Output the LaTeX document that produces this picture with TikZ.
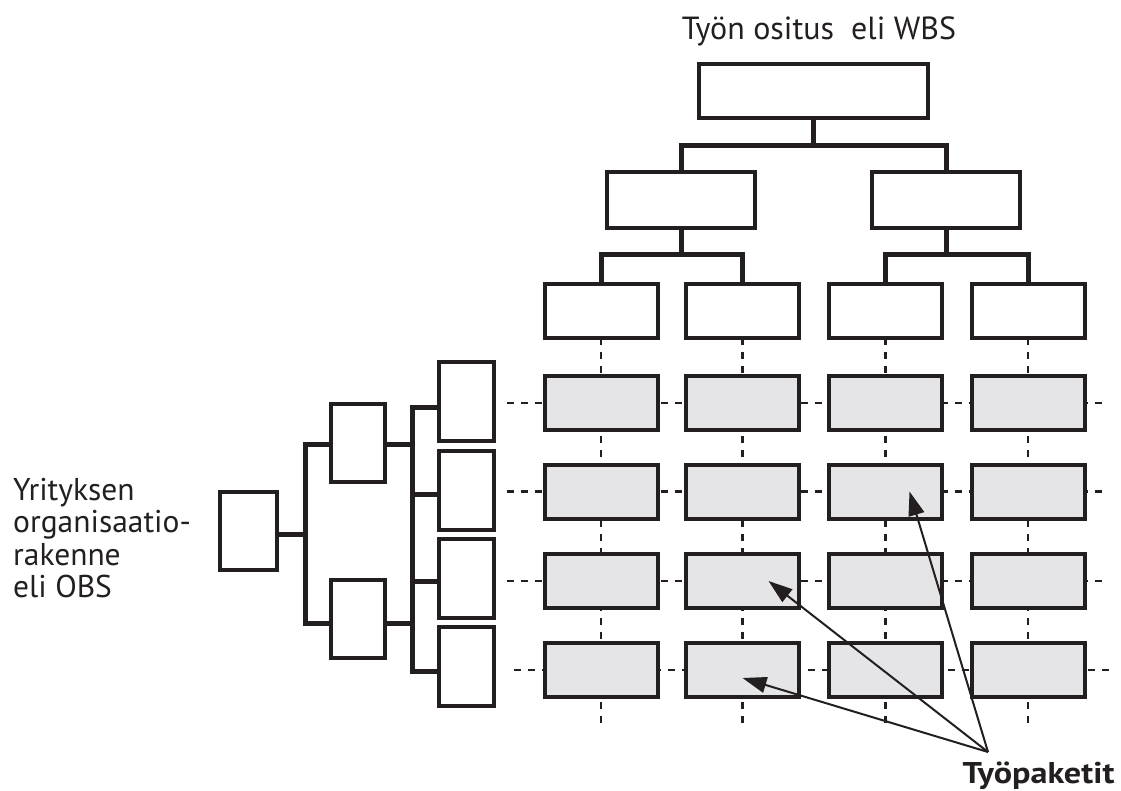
\documentclass[tikz,border=0pt]{standalone}
\usepackage{fontspec}
\setmainfont{PT Sans}
\usetikzlibrary{arrows.meta}
\definecolor{ink}{HTML}{231F20}
\definecolor{pkg}{HTML}{E5E5E7}
\pgfdeclarelayer{bg}
\pgfsetlayers{bg,main}
\begin{document}
\begin{tikzpicture}[x=1pt,y=-1pt,
  box/.style={draw=ink, line width=4pt, fill=white, inner sep=0pt, outer sep=0pt},
  pkgbox/.style={box, fill=pkg, minimum width=113pt, minimum height=54pt},
  wA/.style={minimum width=229pt, minimum height=54pt},
  wB/.style={minimum width=148pt, minimum height=56pt},
  wC/.style={minimum width=113pt, minimum height=54pt},
  oA/.style={minimum width=57pt, minimum height=78pt},
  oB/.style={minimum width=54pt, minimum height=78pt},
  oC/.style={minimum width=55pt, minimum height=79pt},
  conn/.style={draw=ink, line width=5pt, line join=miter},
  dashline/.style={draw=ink, line width=2.5pt, dash pattern=on 7pt off 7pt},
  arr/.style={draw=ink, line width=2pt, -{Triangle[length=24pt,width=16pt]}},
  lbl/.style={inner sep=0pt, text=ink, font=\fontsize{31.5}{32.3}\selectfont}
]
\useasboundingbox (0,0) rectangle (1121,791);

% WBS tree
\node[box, wA] (w0) at (813.5,91) {};
\node[box, wB] (w1) at (681,200) {};
\node[box, wB] (w2) at (946,200) {};
\node[box, wC] (c1) at (601,311) {};
\node[box, wC] (c2) at (742.5,311) {};
\node[box, wC] (c3) at (885.5,311) {};
\node[box, wC] (c4) at (1028,311) {};

\coordinate (wj) at (813.5,146);
\draw[conn] (w0.south) -- (wj);
\draw[conn] (w1.north) |- (wj);
\draw[conn] (w2.north) |- (wj);
\coordinate (aj) at (681,255);
\draw[conn] (w1.south) -- (aj);
\draw[conn] (c1.north) |- (aj);
\draw[conn] (c2.north) |- (aj);
\coordinate (bj) at (946,255);
\draw[conn] (w2.south) -- (bj);
\draw[conn] (c3.north) |- (bj);
\draw[conn] (c4.north) |- (bj);

% work packages grid
\foreach \r/\y in {1/403,2/491.5,3/581,4/670}{
  \foreach \c/\x in {1/601,2/742.5,3/885.5,4/1028}{
    \node[pkgbox] (g\r\c) at (\x,\y) {};
  }
}
\begin{pgfonlayer}{bg}
\foreach \c in {1,2,3,4}{
  \draw[dashline] (c\c.south) -- ([yshift=-27pt]g4\c.south);
}
\foreach \r in {1,2,3}{
  \draw[dashline] ([xshift=-38pt]g\r1.west) -- ([xshift=24pt]g\r4.east);
}
\draw[dashline] ([xshift=-31pt]g41.west) -- ([xshift=26pt]g44.east);
\end{pgfonlayer}

% OBS tree
\node[box, oA] (o0) at (248.5,531) {};
\node[box, oB] (o1) at (358,442.5) {};
\node[box, oB] (o2) at (358,619) {};
\node[box, oC] (o3) at (466.5,401.5) {};
\node[box, oC] (o4) at (466.5,490.5) {};
\node[box, oC] (o5) at (466.5,578) {};
\node[box, oC] (o6) at (466.5,666.5) {};

\coordinate (oj1) at (305,534);
\draw[conn] (o0.east |- oj1) -- (oj1);
\draw[conn] ([yshift=-2pt]o1.west) -| (oj1);
\draw[conn] ([yshift=-4pt]o2.west) -| (oj1);
\coordinate (oj2) at (412,0);
\draw[conn] ([yshift=-2pt]o1.east) -- ([yshift=-2pt]o1.east -| oj2);
\draw[conn] ([yshift=-4pt]o2.east) -- ([yshift=-4pt]o2.east -| oj2);
\draw[conn] ([yshift=-6pt]o3.west) -| ([yshift=-5pt]o6.west -| oj2) -- ([yshift=-5pt]o6.west);
\draw[conn] ([yshift=-4pt]o4.west) -- ([yshift=-4pt]o4.west -| oj2);
\draw[conn] ([yshift=-3pt]o5.west) -- ([yshift=-3pt]o5.west -| oj2);

% labels
\node[lbl, anchor=base, font=\fontsize{32}{34}\selectfont] (title) at (819,40) {Työn ositus\ \ eli WBS};
\node[lbl, anchor=north west, align=left] (obs) at (13,478) {Yrityksen\\organisaatio-\\rakenne\\eli OBS};
\node[lbl, anchor=base, font=\fontsize{30}{32}\selectfont\bfseries] (tp-label) at (1038.5,783) {\scalebox{1.14}[1]{Työpaketit}};

% arrows
\coordinate (tp) at (988,752);
\draw[arr] (tp) -- ([xshift=24pt]g23.center);
\draw[arr] (tp) -- ([xshift=26pt]g32.center);
\draw[arr] (tp) -- ([yshift=-8pt]g42.center);
\end{tikzpicture}
\end{document}
